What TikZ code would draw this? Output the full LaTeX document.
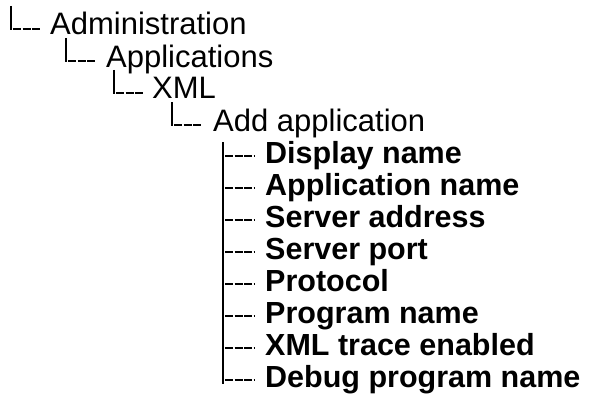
\documentclass[tikz,border=0pt]{standalone}
\usepackage{fontspec}
\setmainfont{Liberation Sans}
\usetikzlibrary{calc}

\begin{document}
\begin{tikzpicture}[x=1pt,y=-1pt,
  item/.style={anchor=base west,inner sep=0pt,font=\fontsize{31}{36}\selectfont},
  leaf/.style={item,font=\fontsize{30.5}{36}\selectfont\bfseries},
  bar/.style={line width=1.2pt},
  ticks/.style={line width=1.1pt,dash pattern=on 8pt off 1.5pt}]
  \useasboundingbox (0,0) rectangle (597,396);

  \node[item] (adm)  at (50,35)  {Administration};
  \node[item] (apps) at (106,67) {Applications};
  \node[item] (xml)  at (152,99) {XML};
  \node[item] (add)  at (213,131) {Add application};

  \node[leaf] (disp)  at (265,163) {Display name};
  \node[leaf] (appn)  at (265,195) {Application name};
  \node[leaf] (saddr) at (265,227) {Server address};
  \node[leaf] (sport) at (265,259) {Server port};
  \node[leaf] (proto) at (265,291) {Protocol};
  \node[leaf] (prog)  at (265,323) {Program name};
  \node[leaf] (trace) at (265,355) {XML trace enabled};
  \node[leaf] (debug) at (265,387) {Debug program name};

  % upper levels
  \draw[bar] ($(adm.base west)+(-39,-29)$) -- ($(adm.base west)+(-39,-5)$);
  \draw[ticks] ($(adm.base west)+(-37,-6)$) -- ($(adm.base west)+(-10,-6)$);
  \draw[bar] ($(apps.base west)+(-40,-29)$) -- ($(apps.base west)+(-40,-5)$);
  \draw[ticks] ($(apps.base west)+(-38,-6)$) -- ($(apps.base west)+(-11,-6)$);
  \draw[bar] ($(xml.base west)+(-38,-29)$) -- ($(xml.base west)+(-38,-5)$);
  \draw[ticks] ($(xml.base west)+(-36,-6)$) -- ($(xml.base west)+(-9,-6)$);
  \draw[bar] ($(add.base west)+(-41,-29)$) -- ($(add.base west)+(-41,-5)$);
  \draw[ticks] ($(add.base west)+(-39,-6)$) -- ($(add.base west)+(-12,-6)$);

  % leaves of Add application
  \draw[bar] ($(disp.base west)+(-42,-21)$) -- ($(debug.base west)+(-42,-3)$);
  \draw[ticks] ($(disp.base west)+(-40,-7)$) -- ($(disp.base west)+(-11,-7)$);
  \draw[ticks] ($(appn.base west)+(-40,-7)$) -- ($(appn.base west)+(-11,-7)$);
  \draw[ticks] ($(saddr.base west)+(-40,-7)$) -- ($(saddr.base west)+(-11,-7)$);
  \draw[ticks] ($(sport.base west)+(-40,-7)$) -- ($(sport.base west)+(-11,-7)$);
  \draw[ticks] ($(proto.base west)+(-40,-7)$) -- ($(proto.base west)+(-11,-7)$);
  \draw[ticks] ($(prog.base west)+(-40,-7)$) -- ($(prog.base west)+(-11,-7)$);
  \draw[ticks] ($(trace.base west)+(-40,-7)$) -- ($(trace.base west)+(-11,-7)$);
  \draw[ticks] ($(debug.base west)+(-40,-7)$) -- ($(debug.base west)+(-11,-7)$);
\end{tikzpicture}
\end{document}
